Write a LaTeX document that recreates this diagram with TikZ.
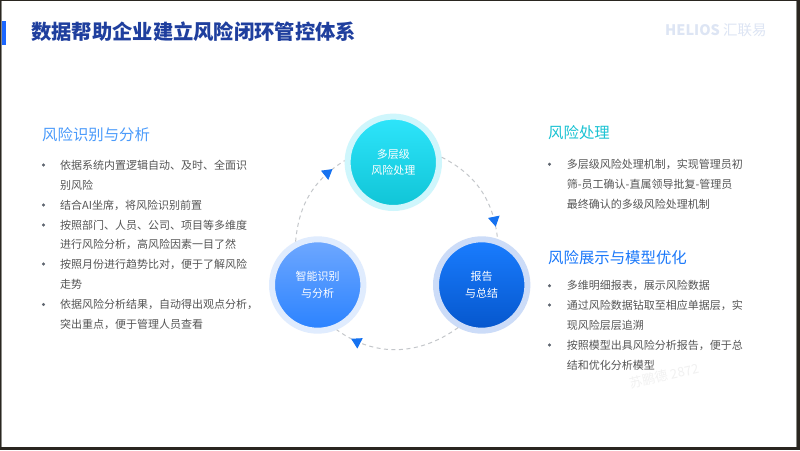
\documentclass[tikz,border=0pt]{standalone}
\usepackage{fontspec}
\setmainfont{Noto Sans CJK SC}
\usepackage{xcolor}
\usetikzlibrary{arrows.meta,decorations.markings}

\definecolor{titlenavy}{HTML}{1F3F9E}
\definecolor{tabblue}{HTML}{1A66FF}
\definecolor{bodygrey}{HTML}{555555}
\definecolor{dotgrey}{HTML}{5F6670}
\definecolor{dashgrey}{HTML}{C4C7CB}
\definecolor{tipblue}{HTML}{1672F0}
\definecolor{headsky}{HTML}{4B9BFB}
\definecolor{headteal}{HTML}{1BC3D3}
\definecolor{headblue}{HTML}{1A78FA}
\definecolor{logoblue}{HTML}{DDE5F4}
\definecolor{markgrey}{HTML}{F1F1F1}
\definecolor{framedark}{HTML}{2A2620}
\definecolor{framegrey}{HTML}{8A8A86}
\definecolor{topup}{HTML}{2EE5FB}
\definecolor{topdown}{HTML}{10C4D6}
\definecolor{topring}{HTML}{CFF6FC}
\definecolor{rightup}{HTML}{1A7DFF}
\definecolor{rightdown}{HTML}{0556CC}
\definecolor{rightring}{HTML}{CCDCF8}
\definecolor{leftup}{HTML}{6FA8FF}
\definecolor{leftdown}{HTML}{2A82FF}
\definecolor{leftring}{HTML}{E0ECFE}

\tikzset{
  x=1pt,y=1pt,
  stepring/.style={circle,draw,line width=6pt,minimum size=91.4pt,inner sep=0pt,
    text=white,align=center,font=\fontsize{11}{16.4}\selectfont},
  headtext/.style={anchor=west,inner sep=0pt,font=\fontsize{15.4}{18}\selectfont},
  linetext/.style={anchor=west,inner sep=0pt,text=bodygrey,font=\fontsize{11}{14}\selectfont},
  looparc/.style={draw=dashgrey,line width=1pt,dash pattern=on 4pt off 3.5pt,
    postaction={decorate},decoration={markings,
      mark=at position #1 with {\arrow[color=tipblue]{Triangle[length=10pt,width=11.5pt]}}}},
}

\begin{document}
\begin{tikzpicture}

\useasboundingbox (0,0) rectangle (800,450);
\fill[white] (0,0) rectangle (800,450);

%window edge
\fill[framedark] (0,449) rectangle (800,450);
\fill[framedark] (0,0) rectangle (1,450);
\fill[framegrey] (1,3) rectangle (2,449);
\fill[framegrey] (795.7,3) rectangle (797.3,449);
\fill[framedark] (797.3,0) rectangle (800,450);
\fill[framedark] (0,0) rectangle (800,3);

\fill[tabblue] (2,405) rectangle (6,429);
\node (title) at (31,418.3)[anchor=west,inner sep=0pt,text=titlenavy,font=\fontsize{20.3}{24}\selectfont\bfseries]{数据帮助企业建立风险闭环管控体系};
\node (logo) at (665,419.5)[anchor=west,inner sep=0pt,text=logoblue,font=\fontsize{14.5}{16}\selectfont]{{\bfseries HELIOS} 汇联易};

\node (top) at (393.3,287.7)[stepring,draw=topring,top color=topup,bottom color=topdown]{多层级\\风险处理};
\node (right) at (481.7,165)[stepring,draw=rightring,top color=rightup,bottom color=rightdown]{报告\\与总结};
\node (left) at (317.7,165)[stepring,draw=leftring,top color=leftup,bottom color=leftdown]{智能识别\\与分析};

\draw[looparc=0.88] (top.6.5) to[out=-27,in=96] (right.71);
\draw[looparc=0.87] (right.241) to[out=-144,in=-36] (left.293);
\draw[looparc=0.85] (left.117) to[out=85,in=212] (top.178);

%left column
\node (lefthead) at (42,315)[headtext,text=headsky]{风险识别与分析};
\foreach \n/\y/\t in {1/285/依据系统内置逻辑自动、及时、全面识,
  2/265/别风险,
  3/245/结合AI坐席，将风险识别前置,
  4/225/按照部门、人员、公司、项目等多维度,
  5/205.5/进行风险分析，高风险因素一目了然,
  6/186/按照月份进行趋势比对，便于了解风险,
  7/166/走势,
  8/145.5/依据风险分析结果，自动得出观点分析，,
  9/126/突出重点，便于管理人员查看}
{
\node (l\n) at (60,\y)[linetext]{\t};
}
\foreach \y in {285,245,225,186,145.5}
{
\filldraw[dotgrey] (43.5,\y) circle (1.4);
}

%right column
\node (righthead) at (548,317.7)[headtext,text=headteal]{风险处理};
\foreach \n/\y/\t in {1/285.7/多层级风险处理机制，实现管理员初,
  2/266/筛-员工确认-直属领导批复-管理员,
  3/246/最终确认的多级风险处理机制}
{
\node (r\n) at (566.7,\y)[linetext]{\t};
}
\filldraw[dotgrey] (549.5,285.7) circle (1.4);

\node (modelhead) at (548,192.7)[headtext,text=headblue]{风险展示与模型优化};
\foreach \n/\y/\t in {1/164.3/多维明细报表，展示风险数据,
  2/145/通过风险数据钻取至相应单据层，实,
  3/125/现风险层层追溯,
  4/105/按照模型出具风险分析报告，便于总,
  5/85/结和优化分析模型}
{
\node (m\n) at (566.7,\y)[linetext]{\t};
}
\foreach \y in {164.3,145,105}
{
\filldraw[dotgrey] (549.5,\y) circle (1.4);
}

\node (stamp) at (664,74)[inner sep=0pt,rotate=13,text=markgrey,font=\fontsize{13}{15}\selectfont]{苏鹏德 2872};

\end{tikzpicture}
\end{document}
